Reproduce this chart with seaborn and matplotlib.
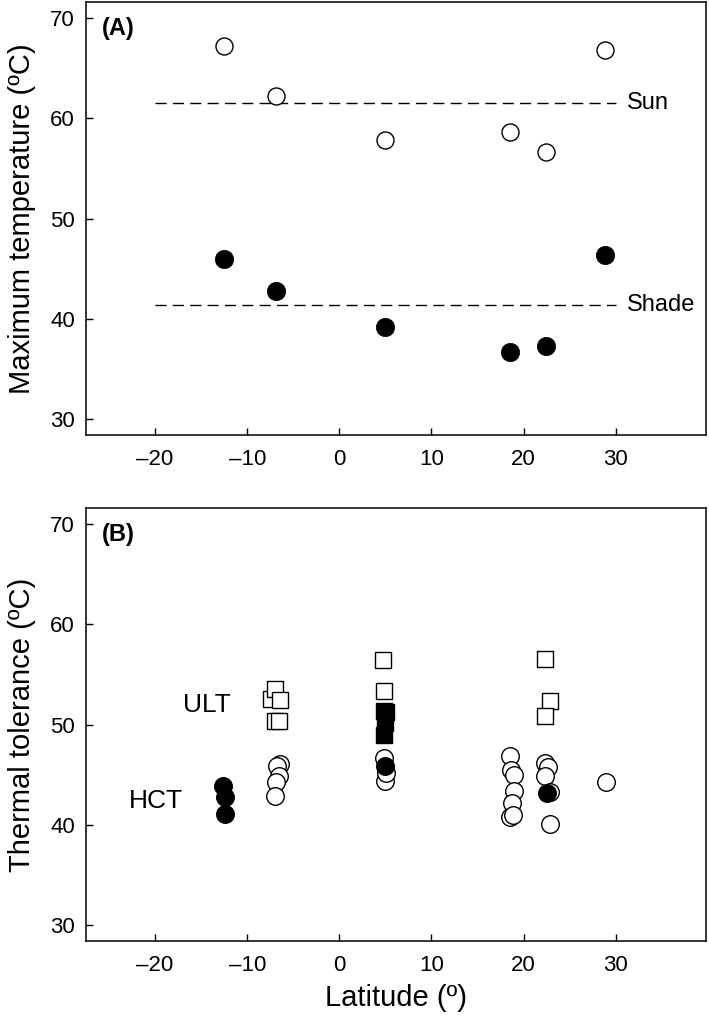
import matplotlib.pyplot as plt
import numpy as np
import pandas as pd
import seaborn as sns


# Panel A: maximum operative temperature per site
site_latitude = [-12.5, -6.9, 5.0, 18.5, 22.4, 28.8]
sun_temperature = [67.2, 62.2, 57.8, 58.6, 56.6, 66.8]
shade_temperature = [46.0, 42.75, 39.15, 36.7, 37.25, 46.35]

# Panel B: thermal tolerance (HCT circles, ULT squares)
hct_filled_latitude = [-12.65, -12.4, -12.4, 5.0, 22.5]
hct_filled_value = [43.9, 42.8, 41.1, 45.9, 43.2]

hct_open_latitude = [
    -6.45, -6.8, -6.6, -6.9, -7.0,
    4.8, 5.0, 5.1,
    18.5, 18.6, 19.0, 19.0, 18.7, 18.5, 18.9,
    22.3, 22.7, 22.3, 22.9, 22.9,
    28.9,
]
hct_open_value = [
    46.1, 45.9, 44.9, 44.3, 42.9,
    46.7, 44.4, 45.2,
    46.9, 45.5, 45.0, 43.4, 42.2, 40.8, 41.0,
    46.2, 45.8, 44.9, 43.3, 40.1,
    44.3,
]

ult_open_latitude = [-7.45, -6.95, -6.4, -7.0, -6.55, 4.7, 4.9, 22.3, 22.9, 22.3]
ult_open_value = [52.6, 53.5, 52.5, 50.4, 50.4, 56.4, 53.3, 56.5, 52.4, 50.9]

ult_filled_latitude = [4.9, 5.1, 4.95, 4.9]
ult_filled_value = [51.4, 51.3, 50.2, 49.0]

x_ticks = [-20, -10, 0, 10, 20, 30]
y_ticks = [30, 40, 50, 60, 70]


sns.set_style("ticks")

plt.rcParams["font.family"] = ["Liberation Sans", "DejaVu Sans"]
plt.rcParams["axes.linewidth"] = 1.1
plt.rcParams["axes.edgecolor"] = "black"
plt.rcParams["axes.labelcolor"] = "black"
plt.rcParams["text.color"] = "black"
plt.rcParams["xtick.color"] = "black"
plt.rcParams["ytick.color"] = "black"
plt.rcParams["xtick.direction"] = "in"
plt.rcParams["ytick.direction"] = "in"


def style_axis(axis, ylabel):
    axis.set_xlim(-27.5, 39.8)
    axis.set_ylim(28.4, 71.6)
    axis.set_xticks(x_ticks)
    axis.set_xticklabels([f"{t}".replace("-", "\u2013") for t in x_ticks])
    axis.set_yticks(y_ticks)
    axis.tick_params(
        axis="both",
        length=5,
        width=1,
        labelsize=16,
        color="black",
        labelcolor="black",
    )
    axis.tick_params(axis="x", pad=10)
    axis.tick_params(axis="y", pad=8)
    axis.set_ylabel(ylabel, fontsize=21, labelpad=10)
    axis.set_xlabel("")
    for spine in axis.spines.values():
        spine.set_visible(True)
        spine.set_color("black")


figure = plt.figure(figsize=(7.09, 10.18), dpi=100)

axis_a = figure.add_axes([0.1213, 0.5727, 0.8745, 0.4253])
axis_b = figure.add_axes([0.1213, 0.0756, 0.8745, 0.4253])

# ---- Panel A
panel_a = pd.DataFrame(
    {
        "latitude": site_latitude,
        "sun": sun_temperature,
        "shade": shade_temperature,
    }
)

sun_mean = np.mean(sun_temperature)
shade_mean = np.mean(shade_temperature)

for level, name in [(sun_mean, "Sun"), (shade_mean, "Shade")]:
    axis_a.plot(
        [-20, 30],
        [level, level],
        linestyle=(0, (8, 4.5)),
        color="black",
        linewidth=1,
        zorder=1,
    )
    axis_a.text(31.2, level, name, fontsize=17, ha="left", va="center")

sns.scatterplot(
    data=panel_a,
    x="latitude",
    y="sun",
    marker="o",
    s=150,
    color="white",
    edgecolor="black",
    linewidth=1,
    zorder=3,
    ax=axis_a,
)

sns.scatterplot(
    data=panel_a,
    x="latitude",
    y="shade",
    marker="o",
    s=175,
    color="black",
    edgecolor="black",
    linewidth=0.5,
    zorder=3,
    ax=axis_a,
)

style_axis(axis_a, "Maximum temperature (\u00baC)")
axis_a.text(
    0.026, 0.94, "(A)",
    transform=axis_a.transAxes,
    fontsize=17,
    fontweight="bold",
    ha="left",
    va="center",
)

# ---- Panel B
layers = [
    (ult_open_latitude, ult_open_value, "s", 117, "white"),
    (ult_filled_latitude, ult_filled_value, "s", 117, "black"),
    (hct_open_latitude, hct_open_value, "o", 160, "white"),
    (hct_filled_latitude, hct_filled_value, "o", 160, "black"),
]

for latitude, value, marker, size, face in layers:
    sns.scatterplot(
        x=latitude,
        y=value,
        marker=marker,
        s=size,
        color=face,
        edgecolor="black",
        linewidth=1,
        zorder=3,
        ax=axis_b,
    )

axis_b.text(-17.0, 52.0, "ULT", fontsize=19, ha="left", va="center")
axis_b.text(-22.9, 42.4, "HCT", fontsize=19, ha="left", va="center")

style_axis(axis_b, "Thermal tolerance (\u00baC)")
axis_b.set_xlabel("Latitude (\u00ba)", fontsize=21, labelpad=6)
axis_b.text(
    0.026, 0.94, "(B)",
    transform=axis_b.transAxes,
    fontsize=17,
    fontweight="bold",
    ha="left",
    va="center",
)

figure.savefig("out.png", dpi=100)
plt.close(figure)
